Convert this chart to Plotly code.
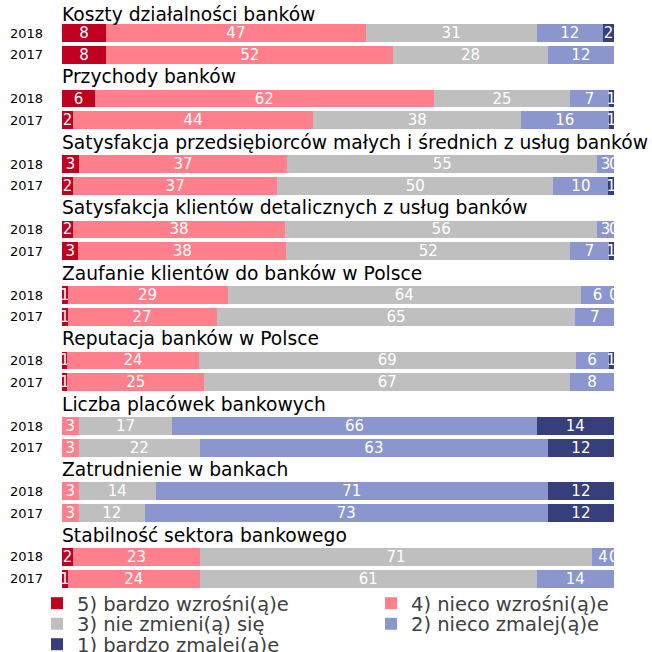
import plotly.graph_objects as go

groups = [
    "Koszty działalności banków",
    "Przychody banków",
    "Satysfakcja przedsiębiorców małych i średnich z usług banków",
    "Satysfakcja klientów detalicznych z usług banków",
    "Zaufanie klientów do banków w Polsce",
    "Reputacja banków w Polsce",
    "Liczba placówek bankowych",
    "Zatrudnienie w bankach",
    "Stabilność sektora bankowego",
]
years = ["2018", "2017"]

answers = [
    "5) bardzo wzrośni(ą)e",
    "4) nieco wzrośni(ą)e",
    "3) nie zmieni(ą) się",
    "2) nieco zmalej(ą)e",
    "1) bardzo zmalej(ą)e",
]
colors = ["#C00020", "#FF7F8C", "#BFBFBF", "#8B96CE", "#363E7C"]

# shares of answers per question, as (2018, 2017)
bardzo_wzrosnie = [(8, 8), (6, 2), (3, 2), (2, 3), (1, 1), (1, 1), (None, None), (None, None), (2, 1)]
nieco_wzrosnie = [(47, 52), (62, 44), (37, 37), (38, 38), (29, 27), (24, 25), (3, 3), (3, 3), (23, 24)]
bez_zmian = [(31, 28), (25, 38), (55, 50), (56, 52), (64, 65), (69, 67), (17, 22), (14, 12), (71, 61)]
nieco_zmaleje = [(12, 12), (7, 16), (3, 10), (3, 7), (6, 7), (6, 8), (66, 63), (71, 73), (4, 14)]
bardzo_zmaleje = [(2, None), (1, 1), (0, 1), (0, 1), (0, None), (1, None), (14, 12), (12, 12), (0, None)]

series = [bardzo_wzrosnie, nieco_wzrosnie, bez_zmian, nieco_zmaleje, bardzo_zmaleje]

FONT = "DejaVu Sans"

# each question takes three rows: title, 2018, 2017
positions, ticktext = [], []
for gi in range(len(groups)):
    for yi, yr in enumerate(years):
        positions.append(3 * gi + 1 + yi)
        ticktext.append(yr)


def flat(s):
    return [v for pair in s for v in pair]


fig = go.Figure()
# legend layout: two columns, entries 5/4 in the first row, 3/2 in the second, 1 in the third
legend_ids = ["legend", "legend2", "legend3", "legend4", "legend5"]
for k, (name, col, s) in enumerate(zip(answers, colors, series)):
    vals = flat(s)
    fig.add_trace(go.Bar(
        x=vals, y=positions, orientation="h", name=name,
        marker=dict(color=col, line=dict(width=0)),
        width=0.82,
        text=["" if v is None else str(v) for v in vals],
        textposition="inside", insidetextanchor="middle", textangle=0,
        textfont=dict(family=FONT, size=15, color="white"),
        hoverinfo="skip", legend=legend_ids[k],
    ))

# labels for zero shares (their bars have no width)
annotations = []
rows = [[flat(s)[r] for s in series] for r in range(len(positions))]
for r, row in enumerate(rows):
    total = sum(v for v in row if v is not None)
    cum = 0
    for v in row:
        if v == 0:
            annotations.append(dict(
                x=cum / total * 100, y=positions[r], xref="x", yref="y",
                text="0", showarrow=False, xanchor="center", yanchor="middle",
                font=dict(family=FONT, size=15, color="white"),
            ))
        if v is not None:
            cum += v

# question titles above each pair of bars
for gi, g in enumerate(groups):
    annotations.append(dict(
        x=0, y=3 * gi + (0.15 if gi == 0 else 0), xref="x", yref="y",
        text=g, showarrow=False, xanchor="left", yanchor="middle", xshift=-2,
        font=dict(family=FONT, size=18.7, color="#000000"),
    ))

legend_style = dict(
    orientation="v", xanchor="left", yanchor="middle",
    font=dict(family=FONT, size=19.5, color="#404040"),
    bgcolor="rgba(0,0,0,0)", itemclick=False, itemdoubleclick=False,
)
col_x = [-0.0453, 0.5598]
row_y = [-0.0229, -0.0576, -0.0924]
fig.update_layout(
    legend=dict(x=col_x[0], y=row_y[0], **legend_style),
    legend2=dict(x=col_x[1], y=row_y[0], **legend_style),
    legend3=dict(x=col_x[0], y=row_y[1], **legend_style),
    legend4=dict(x=col_x[1], y=row_y[1], **legend_style),
    legend5=dict(x=col_x[0], y=row_y[2], **legend_style),
)

fig.update_layout(
    width=652, height=652,
    margin=dict(l=62, r=38, t=0, b=62, autoexpand=False),
    barmode="stack", barnorm="percent",
    plot_bgcolor="white", paper_bgcolor="white",
    uniformtext=dict(minsize=15, mode="show"),
    annotations=annotations,
    xaxis=dict(range=[0, 100], visible=False, fixedrange=True),
    yaxis=dict(
        range=[26.515, -0.512], tickvals=positions, ticktext=ticktext,
        showgrid=False, zeroline=False, showline=False, ticks="",
        ticklabelstandoff=18,
        tickfont=dict(family=FONT, size=13, color="#000000"),
        fixedrange=True,
    ),
    showlegend=True,
)

fig.write_html("out.html")
